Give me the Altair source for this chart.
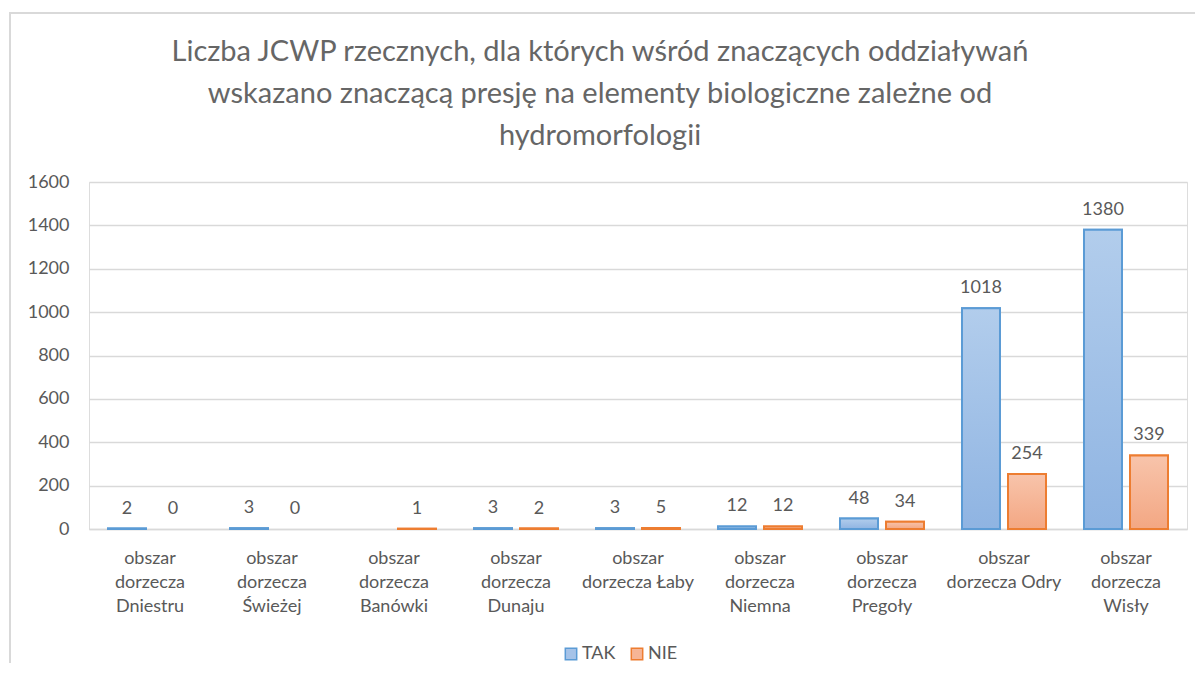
import altair as alt
import pandas as pd

# --- data ---
obszary = [
    "obszar|dorzecza|Dniestru",
    "obszar|dorzecza|Świeżej",
    "obszar|dorzecza|Banówki",
    "obszar|dorzecza|Dunaju",
    "obszar|dorzecza Łaby",
    "obszar|dorzecza|Niemna",
    "obszar|dorzecza|Pregoły",
    "obszar|dorzecza Odry",
    "obszar|dorzecza|Wisły",
]
tak = [2, 3, None, 3, 3, 12, 48, 1018, 1380]
nie = [0, 0, 1, 2, 5, 12, 34, 254, 339]
serie = ["TAK", "NIE"]
y_ticks = [0, 200, 400, 600, 800, 1000, 1200, 1400, 1600]
tytul = [
    "Liczba JCWP rzecznych, dla których wśród znaczących oddziaływań",
    "wskazano znaczącą presję na elementy biologiczne zależne od",
    "hydromorfologii",
]

rows = []
for o, t, n in zip(obszary, tak, nie):
    rows.append({"obszar": o, "seria": "TAK", "wartosc": t})
    rows.append({"obszar": o, "seria": "NIE", "wartosc": n})
df = pd.DataFrame(rows)

TXT = "#595959"
FONT = "Lato"
FS = 18
W, H = 1098, 347

grad_tak = alt.Gradient(
    gradient="linear", x1=0, x2=0, y1=0, y2=1,
    stops=[alt.GradientStop(color="#b2cdec", offset=0),
           alt.GradientStop(color="#8fb4e2", offset=1)],
)
grad_nie = alt.Gradient(
    gradient="linear", x1=0, x2=0, y1=0, y2=1,
    stops=[alt.GradientStop(color="#f8c4ab", offset=0),
           alt.GradientStop(color="#f3a783", offset=1)],
)

x_enc = alt.X(
    "obszar:N", sort=obszary, title=None,
    scale=alt.Scale(paddingInner=0, paddingOuter=0),
    axis=alt.Axis(
        labelAngle=0, labelExpr="split(datum.label, '|')",
        labelFontSize=FS, labelLineHeight=24, labelColor=TXT, labelFont=FONT,
        labelPadding=20, ticks=False, domainColor="#d9d9d9", domainWidth=1.5,
        grid=False,
    ),
)
xoff = alt.XOffset("seria:N", sort=serie,
                   scale=alt.Scale(paddingInner=0.174, paddingOuter=0.413))
y_enc = alt.Y(
    "wartosc:Q", title=None,
    scale=alt.Scale(domain=[0, 1600], nice=False),
    axis=alt.Axis(values=y_ticks, format="d", labelFontSize=FS, labelColor=TXT,
                  labelFont=FONT, labelPadding=20, ticks=False, domain=False,
                  gridColor="#d9d9d9", gridWidth=1.5),
)

leg = alt.Legend(
    title=None, orient="none", direction="horizontal",
    legendX=473, legendY=463, symbolType="square",
    symbolSize=130, symbolStrokeWidth=1.5,
    labelFontSize=FS, labelColor=TXT, labelFont=FONT,
    labelOffset=2, columnPadding=12,
)

base = alt.Chart(df)
bars_data = base.transform_filter("datum.wartosc != null && datum.wartosc > 0")

legend_bars = bars_data.mark_bar(strokeWidth=2).encode(
    x=x_enc, xOffset=xoff, y=y_enc,
    fill=alt.Fill("seria:N", sort=serie,
                  scale=alt.Scale(domain=serie, range=["#a6c3e8", "#f6b596"]),
                  legend=leg),
    stroke=alt.Stroke("seria:N", sort=serie,
                      scale=alt.Scale(domain=serie, range=["#5b9bd5", "#ed7d31"]),
                      legend=leg),
)

grad_bars = bars_data.mark_bar(strokeWidth=2).encode(
    x=x_enc, xOffset=xoff, y=y_enc,
    fill=alt.condition(alt.datum.seria == "TAK", alt.value(grad_tak), alt.value(grad_nie)),
    stroke=alt.Stroke("seria:N", sort=serie, legend=None),
)

labels = base.transform_filter("datum.wartosc != null").mark_text(
    baseline="bottom", dy=-11, fontSize=FS, color=TXT, font=FONT
).encode(
    x=x_enc, xOffset=xoff, y=y_enc, text=alt.Text("wartosc:Q", format="d"),
)

frame = base.transform_filter(
    "datum.seria == 'TAK' && datum.obszar == 'obszar|dorzecza|Dniestru'"
).mark_rect(fill="transparent", stroke="#d9d9d9", strokeWidth=2).encode(
    x=alt.value(-79), x2=alt.value(1300), y=alt.value(-169), y2=alt.value(700),
)

chart = alt.layer(frame, legend_bars, grad_bars, labels).properties(
    width=W, height=H,
    autosize=alt.AutoSizeParams(type="none"),
    padding={"left": 81, "top": 174, "right": 8, "bottom": 134},
    title=alt.TitleParams(
        text=tytul, anchor="middle", frame="group", dx=-38, dy=174, offset=35,
        fontSize=29, lineHeight=42, color="#666666", font=FONT, fontWeight="normal",
    ),
).configure_view(stroke="transparent").configure(background="white")

chart.save("out.html", embed_options={"renderer": "svg", "actions": False})
